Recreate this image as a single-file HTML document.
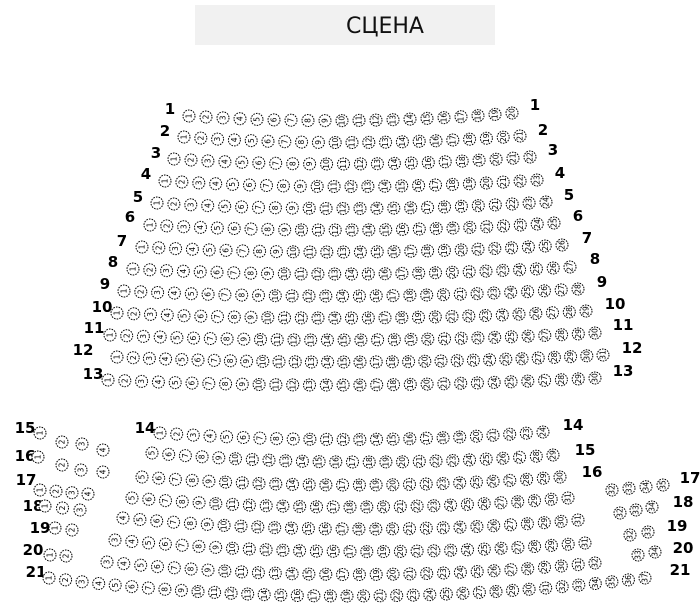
<!DOCTYPE html>
<html><head><meta charset="utf-8"><style>
html,body{margin:0;padding:0;background:#fff;}
svg{display:block;}
.l{font-family:"DejaVu Sans","Liberation Sans",sans-serif;font-weight:bold;font-size:15px;fill:#000;}
.s{font-family:"DejaVu Sans","Liberation Sans",sans-serif;font-size:7.5px;fill:#000;}
</style></head><body>
<svg id="m" width="700" height="614" viewBox="0 0 700 614" xmlns="http://www.w3.org/2000/svg">
<rect x="195" y="5" width="300" height="40" fill="#f1f1f1"/>
<text x="385" y="33" text-anchor="middle" font-family="DejaVu Sans, Liberation Sans, sans-serif" font-size="22" fill="#111">СЦЕНА</text>
<g id="labels" class="l" text-anchor="middle">
<text x="170" y="114">1</text><text x="535" y="110">1</text>
<text x="165" y="136">2</text><text x="543" y="135">2</text>
<text x="156" y="158">3</text><text x="553" y="155">3</text>
<text x="146" y="179">4</text><text x="560" y="178">4</text>
<text x="138" y="202">5</text><text x="569" y="200">5</text>
<text x="130" y="222">6</text><text x="578" y="221">6</text>
<text x="122" y="246">7</text><text x="587" y="243">7</text>
<text x="113" y="267">8</text><text x="595" y="264">8</text>
<text x="105" y="289">9</text><text x="602" y="287">9</text>
<text x="102" y="312">10</text><text x="615" y="309">10</text>
<text x="94" y="333">11</text><text x="623" y="330">11</text>
<text x="83" y="355">12</text><text x="632" y="353">12</text>
<text x="93" y="379">13</text><text x="623" y="376">13</text>
<text x="145" y="433">14</text><text x="573" y="430">14</text>
<text x="25" y="433">15</text><text x="585" y="455">15</text>
<text x="25" y="461">16</text><text x="592" y="477">16</text>
<text x="26" y="485">17</text><text x="690" y="483">17</text>
<text x="33" y="511">18</text><text x="683" y="507">18</text>
<text x="40" y="533">19</text><text x="677" y="531">19</text>
<text x="33" y="555">20</text><text x="683" y="553">20</text>
<text x="36" y="577">21</text><text x="680" y="575">21</text>
</g>
<g id="seats"></g>
</svg>
<script>
var g=document.getElementById('seats');var NS='http://www.w3.org/2000/svg';
function seat(x,y,n){
 var c=document.createElementNS(NS,'circle');c.setAttribute('cx',x);c.setAttribute('cy',y);c.setAttribute('r',6);
 c.setAttribute('fill','#fff');c.setAttribute('stroke','#000');c.setAttribute('stroke-width','1');c.setAttribute('stroke-dasharray','1.6 1.1');g.appendChild(c);
 var t=document.createElementNS(NS,'text');t.setAttribute('class','s');t.setAttribute('text-anchor','middle');
 t.setAttribute('transform','translate('+x+','+y+') rotate(-90) translate(0,2.6)');t.textContent=n;g.appendChild(t);
}
function row(a,b,x0,y0,x1,y1,sag){
 var k=b-a;for(var i=0;i<=k;i++){var t=k?i/k:0;var x=x0+(x1-x0)*t;var y=y0+(y1-y0)*t+sag*4*t*(1-t);seat(x.toFixed(1),y.toFixed(1),a+i);}
}
var topRows=[[20,189,116,512,113],[21,184,137,520,136],[22,174,159,530,157],[23,165,181,537,180],[24,157,203,546,202],[25,150,225,554,223],[26,142,247,562,245],[27,133,269,570,267],[28,124,291,578,289],[29,117,313,586,311],[30,110,335,595,333],[31,117,357,603,355],[30,108,380,595,378]];
topRows.forEach(function(r){row(1,r[0],r[1],r[2],r[3],r[4],6);});
row(1,24,160,433,543,432,7);
row(5,29,152,453,553,455,8);
row(5,30,142,477,560,477,8);
row(5,31,132,498,568,498,9);
row(4,31,123,518,578,520,10);
row(3,31,115,540,585,543,10);
row(3,32,107,562,595,563,12);
row(1,37,49,578,645,578,18);
[[40,433],[62,442],[82,444],[103,450]].forEach(function(p,i){seat(p[0],p[1],i+1);});
[[38,457],[62,465],[81,470],[103,472]].forEach(function(p,i){seat(p[0],p[1],i+1);});
row(1,4,40,490,88,494,0);
row(1,3,45,506,80,510,0);
row(1,2,55,528,72,530,0);
row(1,2,50,555,66,556,0);
row(32,35,612,490,663,485,0);
row(32,34,620,513,652,507,0);
row(32,33,630,535,648,532,0);
row(33,34,638,555,655,552,0);
</script>
</body></html>
